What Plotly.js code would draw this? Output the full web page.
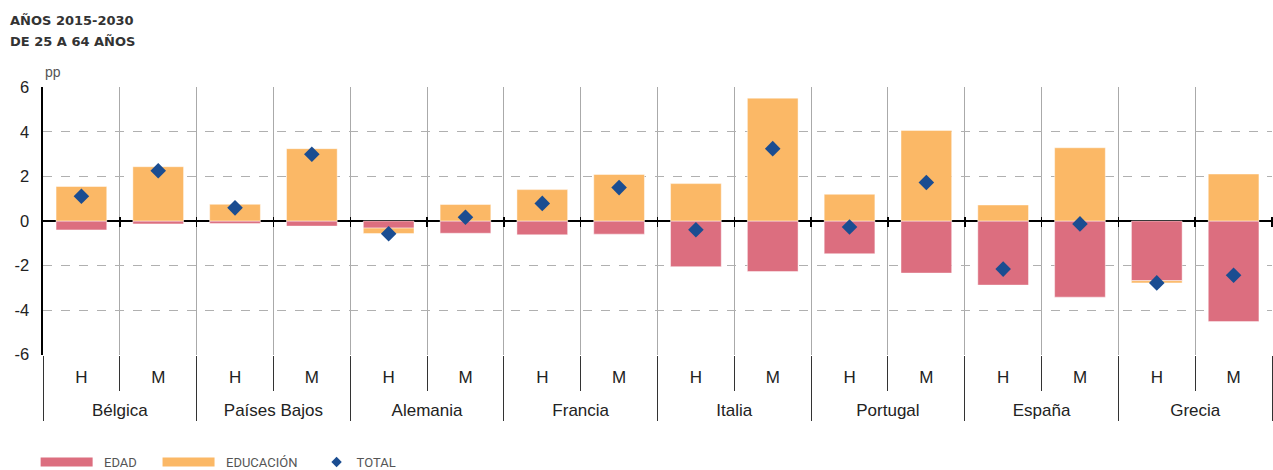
<!DOCTYPE html>
<html>
<head>
<meta charset="utf-8">
<script src="https://cdn.plot.ly/plotly-3.0.1.min.js"></script>
<style>html,body{margin:0;padding:0;background:#fff;}#chart{width:1273px;height:470px;}</style>
</head>
<body>
<div id="chart"></div>
<script>
const countries = ["Bélgica","Países Bajos","Alemania","Francia","Italia","Portugal","España","Grecia"];
const sexes = ["H","M"];
const edad =      [-0.40,-0.13, -0.11,-0.23, -0.32,-0.55, -0.62,-0.59, -2.05,-2.27, -1.47,-2.34, -2.88,-3.42, -2.68,-4.52];
const educacion = [ 1.55, 2.44,  0.75, 3.25, -0.24, 0.74,  1.41, 2.09,  1.68, 5.52,  1.20, 4.07,  0.72, 3.29, -0.10, 2.11];
const total =     [ 1.11, 2.26,  0.59, 3.00, -0.57, 0.17,  0.79, 1.50, -0.39, 3.25, -0.27, 1.73, -2.16,-0.13, -2.78,-2.44];
const yTickVals = [-6,-4,-2,0,2,4,6];
const yTickText = ["-6","-4","-2","0","2","4","6"];

// multicategory x: outer level = country (shown one line lower), inner level = sex
const lvl1 = [], lvl2 = [];
countries.forEach(c => sexes.forEach(s => { lvl1.push("<br>" + c); lvl2.push(s); }));
const xcat = [lvl1, lvl2];
const nCat = lvl2.length;
const boundaries = [];
for (let i = 0; i < nCat; i++) boundaries.push(i + 0.5);

const cEdad = "#dc6e7f", cEduc = "#fbb866", cTot = "#1b4d91";
const font = "Liberation Sans, Arial, sans-serif";
const NB = "\u00a0";
const legFont = {family:"Roboto, Liberation Sans, Arial", size:13, color:"#555"};

const traces = [
  {type:"bar", name:"EDAD", x:xcat, y:edad, marker:{color:cEdad, line:{color:"rgba(255,255,255,0.45)", width:1}}, showlegend:false},
  {type:"bar", name:"EDUCACIÓN", x:xcat, y:educacion, marker:{color:cEduc, line:{color:"rgba(255,255,255,0.45)", width:1}}, showlegend:false},
  {type:"scatter", mode:"markers", name:"TOTAL", x:xcat, y:total, marker:{symbol:"diamond", size:12, color:cTot}, showlegend:false},
  // empty helper so the zero-line tick axis (x2) is drawn
  {type:"scatter", mode:"markers", x:[null], y:[null], xaxis:"x2", yaxis:"y", showlegend:false, hoverinfo:"skip"},
  {type:"scatter", mode:"lines", name:NB+NB+"EDAD", x:[null], y:[null], line:{color:cEdad, width:9}, legend:"legend"},
  {type:"scatter", mode:"lines", name:NB+NB+"EDUCACIÓN", x:[null], y:[null], line:{color:cEduc, width:9}, legend:"legend2"},
  {type:"scatter", mode:"markers", name:"TOTAL", x:[null], y:[null], marker:{symbol:"diamond", size:8, color:cTot}, legend:"legend3"}
];

const layout = {
  width:1273, height:470,
  margin:{l:43, r:1, t:87, b:115, autoexpand:false},
  paper_bgcolor:"#fff", plot_bgcolor:"#fff",
  font:{family:font, color:"#222", size:16},
  barmode:"relative",
  bargap:0.34,
  xaxis:{type:"multicategory", range:[-0.5,15.5], tickson:"boundaries", ticks:"outside", ticklen:35, tickcolor:"#333", tickwidth:1,
         showgrid:true, gridcolor:"#aaa", gridwidth:1,
         showdividers:true, dividercolor:"#333", dividerwidth:1, ticklabelstandoff:10,
         tickfont:{size:17, color:"#222"}, showline:false, zeroline:false},
  xaxis2:{overlaying:"x", type:"linear", range:[-0.5,15.5], anchor:"free", position:0.5 + 5/268, side:"bottom",
          tickmode:"array", tickvals:boundaries, showticklabels:false, ticks:"outside", ticklen:10, tickwidth:1.5, tickcolor:"#000",
          showgrid:false, zeroline:false, showline:false},
  yaxis:{range:[-6.02,6.02], tickvals:yTickVals, ticktext:yTickText, showgrid:true, gridcolor:"#b0b0b0", griddash:"dash", gridwidth:1,
         zeroline:true, zerolinecolor:"#000", zerolinewidth:2.5,
         showline:true, linecolor:"#000", linewidth:2.5, ticks:"", tickfont:{size:16.5, color:"#222"}, ticklabelstandoff:8},
  legend:{orientation:"h", x:-0.006, xanchor:"left", yref:"container", y:8/470, yanchor:"middle", font:legFont, itemwidth:52},
  legend2:{orientation:"h", x:0.0932, xanchor:"left", yref:"container", y:8/470, yanchor:"middle", font:legFont, itemwidth:52},
  legend3:{orientation:"h", x:0.2226, xanchor:"left", yref:"container", y:8/470, yanchor:"middle", font:legFont, itemwidth:30},
  annotations:[
    {text:"AÑOS 2015-2030", xref:"paper", yref:"paper", x:-35/1229, y:(355-20)/268, xanchor:"left", yanchor:"middle", showarrow:false,
     font:{family:"DejaVu Sans, Liberation Sans", size:13, color:"#333", weight:"bold"}},
    {text:"DE 25 A 64 AÑOS", xref:"paper", yref:"paper", x:-35/1229, y:(355-41)/268, xanchor:"left", yanchor:"middle", showarrow:false,
     font:{family:"DejaVu Sans, Liberation Sans", size:13, color:"#333", weight:"bold"}},
    {text:"pp", xref:"paper", yref:"paper", x:0, y:(355-72)/268, xanchor:"left", yanchor:"middle", showarrow:false,
     font:{size:14, color:"#555"}}
  ]
};

Plotly.newPlot("chart", traces, layout, {displayModeBar:false, staticPlot:true});
</script>
</body>
</html>
